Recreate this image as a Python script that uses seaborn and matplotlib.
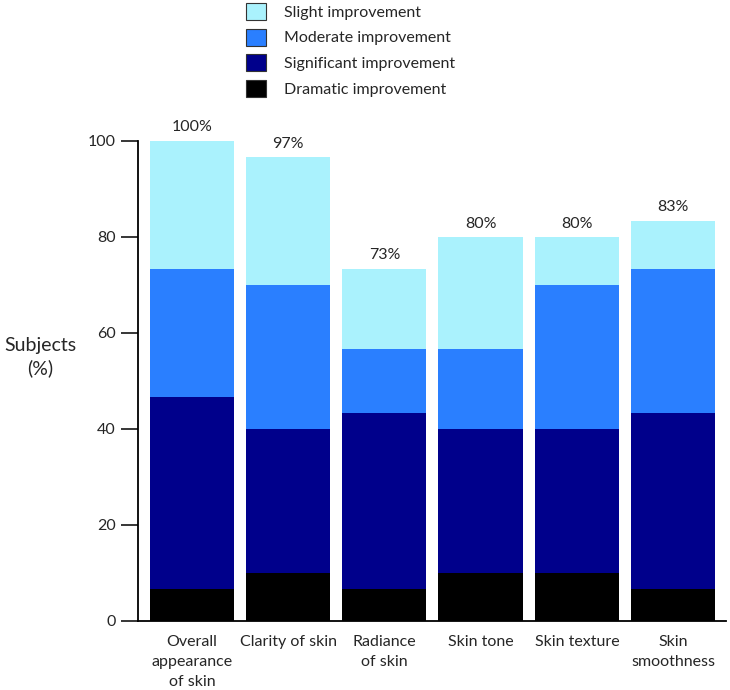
import numpy as np
import pandas as pd
import matplotlib
matplotlib.use("Agg")
import matplotlib.pyplot as plt
import seaborn as sns
from matplotlib.patches import Patch

# Dados (% de sujeitos por nível de melhora)
categorias = ["Overall\nappearance\nof skin", "Clarity of skin", "Radiance\nof skin",
              "Skin tone", "Skin texture", "Skin\nsmoothness"]
dramatica = [6.7, 10.0, 6.7, 10.0, 10.0, 6.7]
significativa = [40.0, 30.0, 36.7, 30.0, 30.0, 36.7]
moderada = [26.7, 30.0, 13.3, 16.7, 30.0, 30.0]
leve = [26.7, 26.7, 16.7, 23.3, 10.0, 10.0]
rotulos_total = ["100%", "97%", "73%", "80%", "80%", "83%"]

niveis = ["Slight improvement", "Moderate improvement",
          "Significant improvement", "Dramatic improvement"]
cores = ["#aaf2fd", "#2a7fff", "#00008b", "#000000"]

sns.set_style("white")
plt.rcParams['font.family'] = ['Lato', 'DejaVu Sans']

df = pd.DataFrame({"Categoria": categorias, "Dramatic": dramatica,
                   "Significant": significativa, "Moderate": moderada,
                   "Slight": leve})
df["c_dram"] = df["Dramatic"]
df["c_sig"] = df["c_dram"] + df["Significant"]
df["c_mod"] = df["c_sig"] + df["Moderate"]
df["c_leve"] = df["c_mod"] + df["Slight"]

fig = plt.figure(figsize=(7.3, 6.9), dpi=100)
ax = fig.add_axes([138 / 730, 69 / 690, (726 - 138) / 730, (621 - 141) / 690])

# barras empilhadas: desenha acumulados do topo para a base
for col, cor in zip(["c_leve", "c_mod", "c_sig", "c_dram"], cores):
    sns.barplot(data=df, x="Categoria", y=col, color=cor, width=0.875,
                linewidth=0, saturation=1, ax=ax, errorbar=None)

for i, (tot, txt) in enumerate(zip(df["c_leve"], rotulos_total)):
    ax.text(i, tot + 1.3, txt, ha="center", va="bottom", fontsize=11.5, clip_on=False)

ax.set_ylim(0, 100)
ax.set_xlim(-0.56, 5.55)
ax.set_yticks([0, 20, 40, 60, 80, 100])
ax.tick_params(axis="y", direction="out", length=12, width=1.3, labelsize=11.5, pad=4, left=True)
ax.tick_params(axis="x", length=0, labelsize=11.5, pad=10)
plt.setp(ax.get_xticklabels(), linespacing=1.55)
for s in ["top", "right"]:
    ax.spines[s].set_visible(False)
for s in ["left", "bottom"]:
    ax.spines[s].set_linewidth(1.3)
    ax.spines[s].set_color("black")
ax.set_xlabel("")
ax.set_ylabel("")
fig.text(40 / 730, 1 - 357 / 690, "Subjects\n(%)", ha="center", va="center",
         fontsize=14, linespacing=1.3)

handles = [Patch(facecolor=c, edgecolor="#333333", linewidth=0.8) for c in cores]
fig.legend(handles, niveis, loc="upper left", bbox_to_anchor=(246 / 730, 1 - 3 / 690),
           frameon=False, fontsize=11.5, handlelength=1.25, handleheight=1.25,
           handletextpad=1.1, labelspacing=0.55, borderpad=0, borderaxespad=0)

plt.savefig("out.png", dpi=100)
plt.close()
